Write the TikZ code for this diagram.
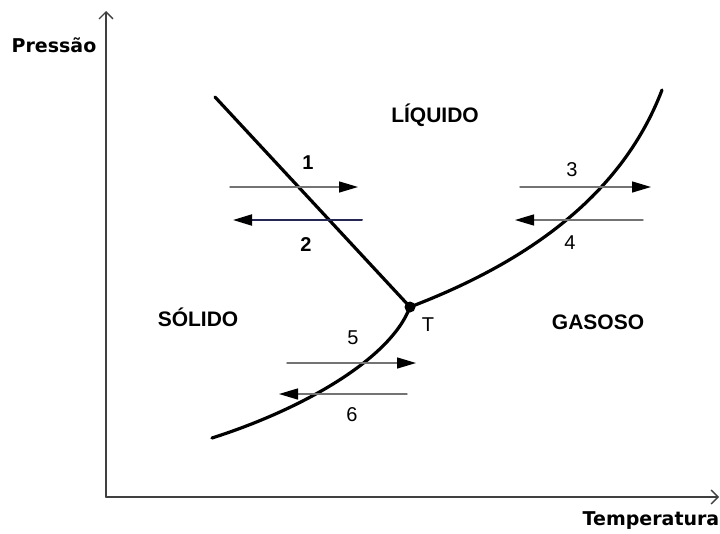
\documentclass[tikz,border=0pt]{standalone}
\usepackage{fontspec}
\setmainfont{Liberation Sans}
\newfontfamily\axisfont{DejaVu Sans}
\usetikzlibrary{arrows.meta}

\begin{document}
\begin{tikzpicture}[x=1pt, y=-1pt, line cap=round, line join=round,
    axis/.style={line width=1.5pt, black!75, -{Straight Barb[length=7pt,width=14pt,line width=1.3pt]}},
    curve/.style={line width=3.2pt, black},
    flow/.style={line width=1.4pt, black!55, -{Triangle[length=19pt,width=11pt,color=black]}},
    back/.style={flow, line width=2pt, blue!20!black!85},
    phase/.style={font=\fontsize{21}{24}\selectfont\bfseries},
    axlabel/.style={font=\axisfont\fontsize{19}{22}\selectfont\bfseries},
    num/.style={font=\fontsize{20}{22}\selectfont},
    numb/.style={font=\fontsize{20}{22}\selectfont\bfseries}]
    \useasboundingbox (0,0) rectangle (720,533);

    \coordinate (O) at (106,497);
    \coordinate (Ytop) at (106,11);
    \coordinate (Xend) at (719,497);
    \coordinate (T) at (410,307);
    \coordinate (F) at (215,97);
    \coordinate (V) at (662,90);
    \coordinate (S) at (212,438);

    % axes
    \draw[axis] (O) -- (Ytop);
    \draw[axis] (O) -- (Xend);
    \node[axlabel] (pres) at (54,45) {Pressão};
    \node[axlabel] (temp) at (651,521) {Temperatura};

    % phase boundaries
    \draw[curve] (F) -- (T);
    \draw[curve] (T) .. controls (520,265) and (620,200) .. (V);
    \draw[curve] (S) .. controls (300,410) and (390,360) .. (T);
    \fill (T) circle (5.5pt);
    \node[num] (tlab) at (428,325) {T};

    \node[phase] (liq) at (435,115) {LÍQUIDO};
    \node[phase] (sol) at (198,317) {SÓLIDO};
    \node[phase] (gas) at (598,322) {GASOSO};

    % transitions
    \coordinate (a1) at (230,187); \coordinate (b1) at (358,187);
    \coordinate (a2) at (362,220); \coordinate (b2) at (233,220);
    \coordinate (a3) at (520,187); \coordinate (b3) at (651,187);
    \coordinate (a4) at (643,220); \coordinate (b4) at (515,220);
    \coordinate (a5) at (287,363); \coordinate (b5) at (416,363);
    \coordinate (a6) at (407,394); \coordinate (b6) at (279,394);
    \draw[flow] (a1) -- (b1);
    \draw[back] (a2) -- (b2);
    \draw[flow] (a3) -- (b3);
    \draw[flow] (a4) -- (b4);
    \draw[flow] (a5) -- (b5);
    \draw[flow] (a6) -- (b6);

    \node[numb] (n1) at (308,163) {1};
    \node[numb] (n2) at (306,245) {2};
    \node[num] (n3) at (572,170) {3};
    \node[num] (n4) at (570,243) {4};
    \node[num] (n5) at (353,338) {5};
    \node[num] (n6) at (352,415) {6};
\end{tikzpicture}
\end{document}
